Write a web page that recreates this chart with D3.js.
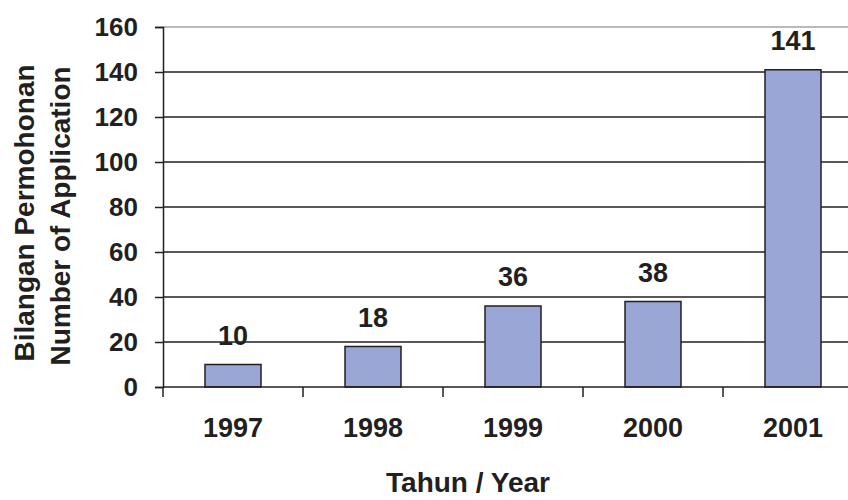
<!DOCTYPE html>
<html lang="en">
<head>
    <meta charset="UTF-8">
    <script src="https://d3js.org/d3.v7.min.js"></script>
    <style>
        body { margin: 0; background: #fff; }
        text { font-family: "Liberation Sans", Arial, sans-serif; font-weight: bold; fill: #231f20; }
    </style>
    <title>Bilangan Permohonan</title>
</head>
<body>
<div id="chart"></div>
<script>
    // data
    var years = ["1997", "1998", "1999", "2000", "2001"];
    var applications = [10, 18, 36, 38, 141];
    var yTicks = [0, 20, 40, 60, 80, 100, 120, 140, 160];

    var canvasWidth = 848;
    var canvasHeight = 500;
    var plotLeft = 163, plotRight = 863, plotTop = 27, plotBottom = 387;
    var ink = "#231f20";

    var svg = d3.select("#chart").append("svg")
        .attr("width", canvasWidth)
        .attr("height", canvasHeight);

    var xScale = d3.scaleBand().domain(years).range([plotLeft, plotRight])
        .paddingInner(0.6).paddingOuter(0.3);
    var yScale = d3.scaleLinear().domain([0, 160]).range([plotBottom, plotTop]);

    // gridlines
    svg.append("g").selectAll("line").data(yTicks.filter(function(d){ return d > 0; }))
        .enter().append("line")
        .attr("x1", plotLeft).attr("x2", canvasWidth)
        .attr("y1", function(d){ return yScale(d); })
        .attr("y2", function(d){ return yScale(d); })
        .attr("stroke", function(d){ return d === 160 ? "#9ea3a8" : ink; })
        .attr("stroke-width", 1.5);

    // bars
    svg.selectAll(".bar").data(applications).enter().append("rect").attr("class", "bar")
        .attr("x", function(d, i){ return xScale(years[i]); })
        .attr("y", function(d){ return yScale(d); })
        .attr("width", xScale.bandwidth())
        .attr("height", function(d){ return plotBottom - yScale(d); })
        .attr("fill", "#99a6d6")
        .attr("stroke", ink)
        .attr("stroke-width", 1.5);

    // value labels
    svg.selectAll(".val").data(applications).enter().append("text").attr("class", "val")
        .attr("x", function(d, i){ return xScale(years[i]) + xScale.bandwidth() / 2; })
        .attr("y", function(d){ return yScale(d) - 20; })
        .attr("text-anchor", "middle")
        .attr("font-size", "27px")
        .text(function(d){ return d; });

    // y axis
    var yAxis = svg.append("g")
        .attr("transform", "translate(" + plotLeft + ",0)")
        .call(d3.axisLeft(yScale).tickValues(yTicks).tickSize(8).tickPadding(17));
    yAxis.select(".domain").attr("stroke", ink).attr("stroke-width", 1.5);
    yAxis.selectAll(".tick line").attr("stroke", ink).attr("stroke-width", 1.5);
    yAxis.selectAll(".tick text")
        .attr("font-size", "26px")
        .attr("font-family", "Liberation Sans, Arial, sans-serif")
        .attr("fill", ink);

    // x axis
    var xTickScale = d3.scaleLinear().domain([0, 5]).range([plotLeft, plotRight]);
    svg.append("line")
        .attr("x1", plotLeft).attr("x2", canvasWidth)
        .attr("y1", plotBottom).attr("y2", plotBottom)
        .attr("stroke", ink).attr("stroke-width", 1.5);
    svg.append("g").selectAll("line").data(d3.range(0, 5)).enter().append("line")
        .attr("x1", function(d){ return xTickScale(d); })
        .attr("x2", function(d){ return xTickScale(d); })
        .attr("y1", plotBottom).attr("y2", plotBottom + 10)
        .attr("stroke", ink).attr("stroke-width", 1.5);
    svg.selectAll(".year").data(years).enter().append("text").attr("class", "year")
        .attr("x", function(d){ return xScale(d) + xScale.bandwidth() / 2; })
        .attr("y", 437)
        .attr("text-anchor", "middle")
        .attr("font-size", "27px")
        .text(function(d){ return d; });

    // axis titles
    svg.append("text")
        .attr("x", 468).attr("y", 492)
        .attr("text-anchor", "middle")
        .attr("font-size", "28px")
        .text("Tahun / Year");
    svg.append("text")
        .attr("transform", "translate(34,213) rotate(-90)")
        .attr("text-anchor", "middle")
        .attr("font-size", "28px")
        .text("Bilangan Permohonan");
    svg.append("text")
        .attr("transform", "translate(70,216) rotate(-90)")
        .attr("text-anchor", "middle")
        .attr("font-size", "28px")
        .text("Number of Application");
</script>
</body>
</html>
